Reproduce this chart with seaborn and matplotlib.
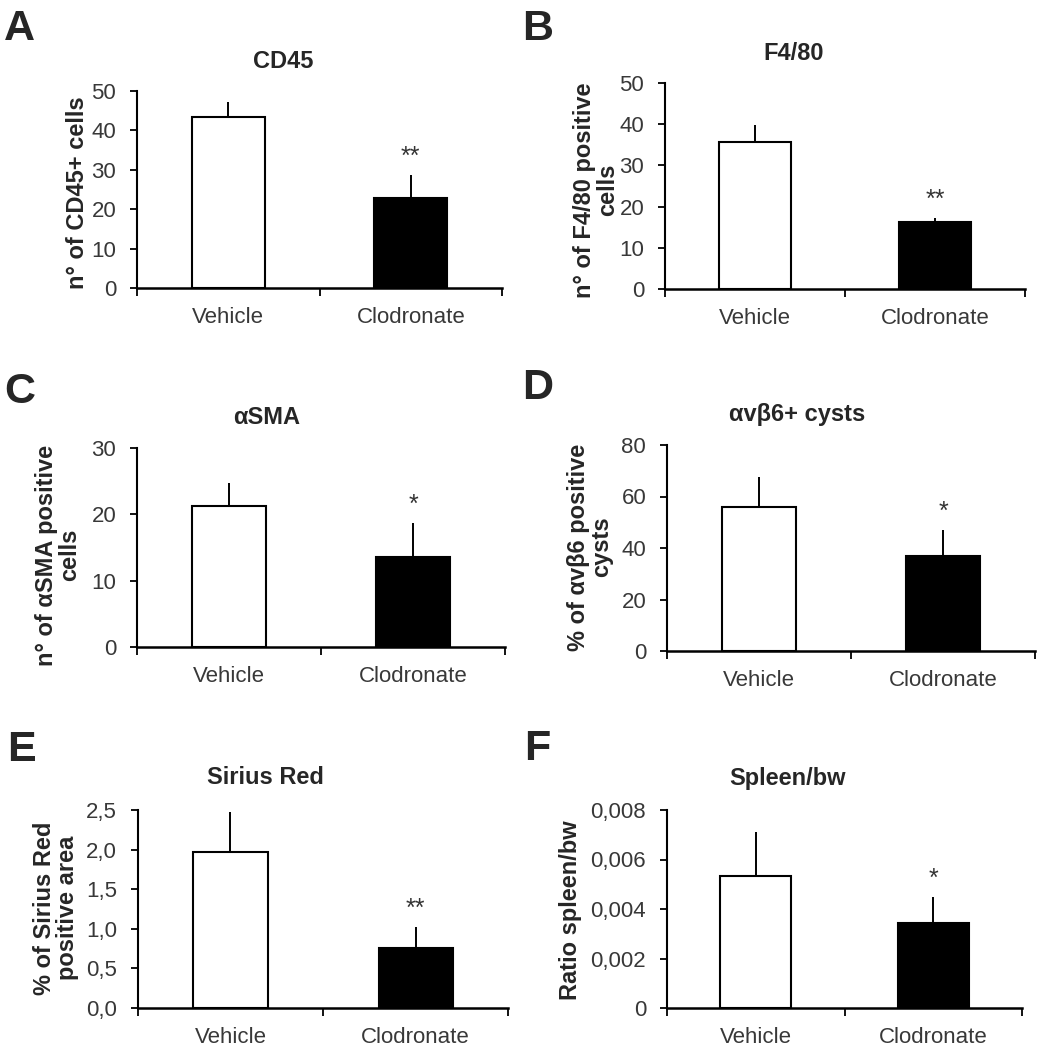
import numpy as np
import pandas as pd
import seaborn as sns
from matplotlib import pyplot as plt

groups = ['Vehicle', 'Clodronate']

cd45_mean = [43.5, 22.8]
cd45_err = [3.8, 5.9]
f480_mean = [35.8, 16.2]
f480_err = [3.9, 1.1]
asma_mean = [21.2, 13.5]
asma_err = [3.5, 5.2]
avb6_mean = [56.0, 36.9]
avb6_err = [11.7, 10.1]
sirius_mean = [1.97, 0.76]
sirius_err = [0.50, 0.26]
spleen_mean = [0.00535, 0.00343]
spleen_err = [0.00177, 0.00105]

stars = ['**', '**', '*', '*', '**', '*']
letters = ['A', 'B', 'C', 'D', 'E', 'F']
titles = ['CD45', 'F4/80', 'αSMA', 'αvβ6+ cysts', 'Sirius Red', 'Spleen/bw']
ylabels = ['n° of CD45+ cells', 'n° of F4/80 positive\ncells',
           'n° of αSMA positive\ncells', '% of αvβ6 positive\ncysts',
           '% of Sirius Red\npositive area', 'Ratio spleen/bw']

cd45_ticks = [0, 10, 20, 30, 40, 50]
f480_ticks = [0, 10, 20, 30, 40, 50]
asma_ticks = [0, 10, 20, 30]
avb6_ticks = [0, 20, 40, 60, 80]
sirius_ticks = [0, 0.5, 1.0, 1.5, 2.0, 2.5]
sirius_ticklabels = ['0,0', '0,5', '1,0', '1,5', '2,0', '2,5']
spleen_ticks = [0, 0.002, 0.004, 0.006, 0.008]
spleen_ticklabels = ['0', '0,002', '0,004', '0,006', '0,008']

means = [cd45_mean, f480_mean, asma_mean, avb6_mean, sirius_mean, spleen_mean]
errs = [cd45_err, f480_err, asma_err, avb6_err, sirius_err, spleen_err]
yticks = [cd45_ticks, f480_ticks, asma_ticks, avb6_ticks, sirius_ticks, spleen_ticks]
yticklabels = [[str(t) for t in cd45_ticks], [str(t) for t in f480_ticks],
               [str(t) for t in asma_ticks], [str(t) for t in avb6_ticks],
               sirius_ticklabels, spleen_ticklabels]

sns.set_theme(style='white')
plt.rcParams['font.family'] = ['Liberation Sans', 'DejaVu Sans']

W, H = 1049, 1050
fig = plt.figure(figsize=(W / 100, H / 100), dpi=100)

# axes boxes in pixels: left, right, top, bottom
boxes = [(137, 502, 91, 288), (665, 1025, 83, 289),
         (137, 505, 448, 647), (667, 1035, 445, 651),
         (138, 508, 810, 1008), (667, 1022, 810, 1008)]
letter_pos = [(19, 29), (538, 29), (20, 392), (538, 388), (21, 750), (537, 749)]
title_pos = [(283, 62), (794, 53), (267, 417), (797, 414), (265, 778), (788, 778)]
ylabel_pos = [(78, 193), (596, 190), (58, 555), (590, 547), (56, 908), (570, 910)]

for i in range(6):
    l, r, t, b = boxes[i]
    ax = fig.add_axes([l / W, 1 - b / H, (r - l) / W, (b - t) / H])
    df = pd.DataFrame({'group': groups, 'value': means[i]})
    sns.barplot(data=df, x='group', y='value', hue='group', palette=['white', 'black'],
                edgecolor='black', linewidth=1.5, width=0.4, errorbar=None,
                legend=False, ax=ax)
    ax.errorbar([0, 1], means[i], yerr=[[0, 0], errs[i]], fmt='none',
                ecolor='black', elinewidth=1.4, capsize=0)
    top_err = means[i][1] + errs[i][1]
    ax.annotate(stars[i], (1, top_err), xytext=(0, 6), textcoords='offset pixels',
                ha='center', va='bottom', fontsize=18, color='#333333')

    ax.set_xlim(-0.5, 1.5)
    ax.set_ylim(yticks[i][0], yticks[i][-1])
    ax.set_yticks(yticks[i])
    ax.set_yticklabels(yticklabels[i])
    ax.set_xticks([-0.5, 0.5, 1.5], minor=True)
    ax.tick_params(axis='x', which='major', length=0, pad=14, labelsize=16, labelcolor='#383838')
    ax.tick_params(axis='x', which='minor', length=6, width=1.3, direction='out', color='black', bottom=True)
    ax.tick_params(axis='y', length=5, width=1.3, direction='out', color='black', left=True,
                   pad=10, labelsize=16, labelcolor='#383838')
    ax.set_xlabel('')
    ax.set_ylabel('')
    sns.despine(ax=ax)
    ax.spines['left'].set_linewidth(1.5)
    ax.spines['bottom'].set_linewidth(1.8)
    ax.spines['left'].set_color('black')
    ax.spines['bottom'].set_color('black')

    fig.text(letter_pos[i][0] / W, 1 - letter_pos[i][1] / H, letters[i],
             fontsize=31, fontweight='bold', ha='center', va='center')
    fig.text(title_pos[i][0] / W, 1 - title_pos[i][1] / H, titles[i],
             fontsize=17, fontweight='bold', ha='center', va='center')
    fig.text(ylabel_pos[i][0] / W, 1 - ylabel_pos[i][1] / H, ylabels[i],
             fontsize=17, fontweight='bold', ha='center', va='center', rotation=90,
             linespacing=1.0)

plt.savefig('out.png', dpi=100)
